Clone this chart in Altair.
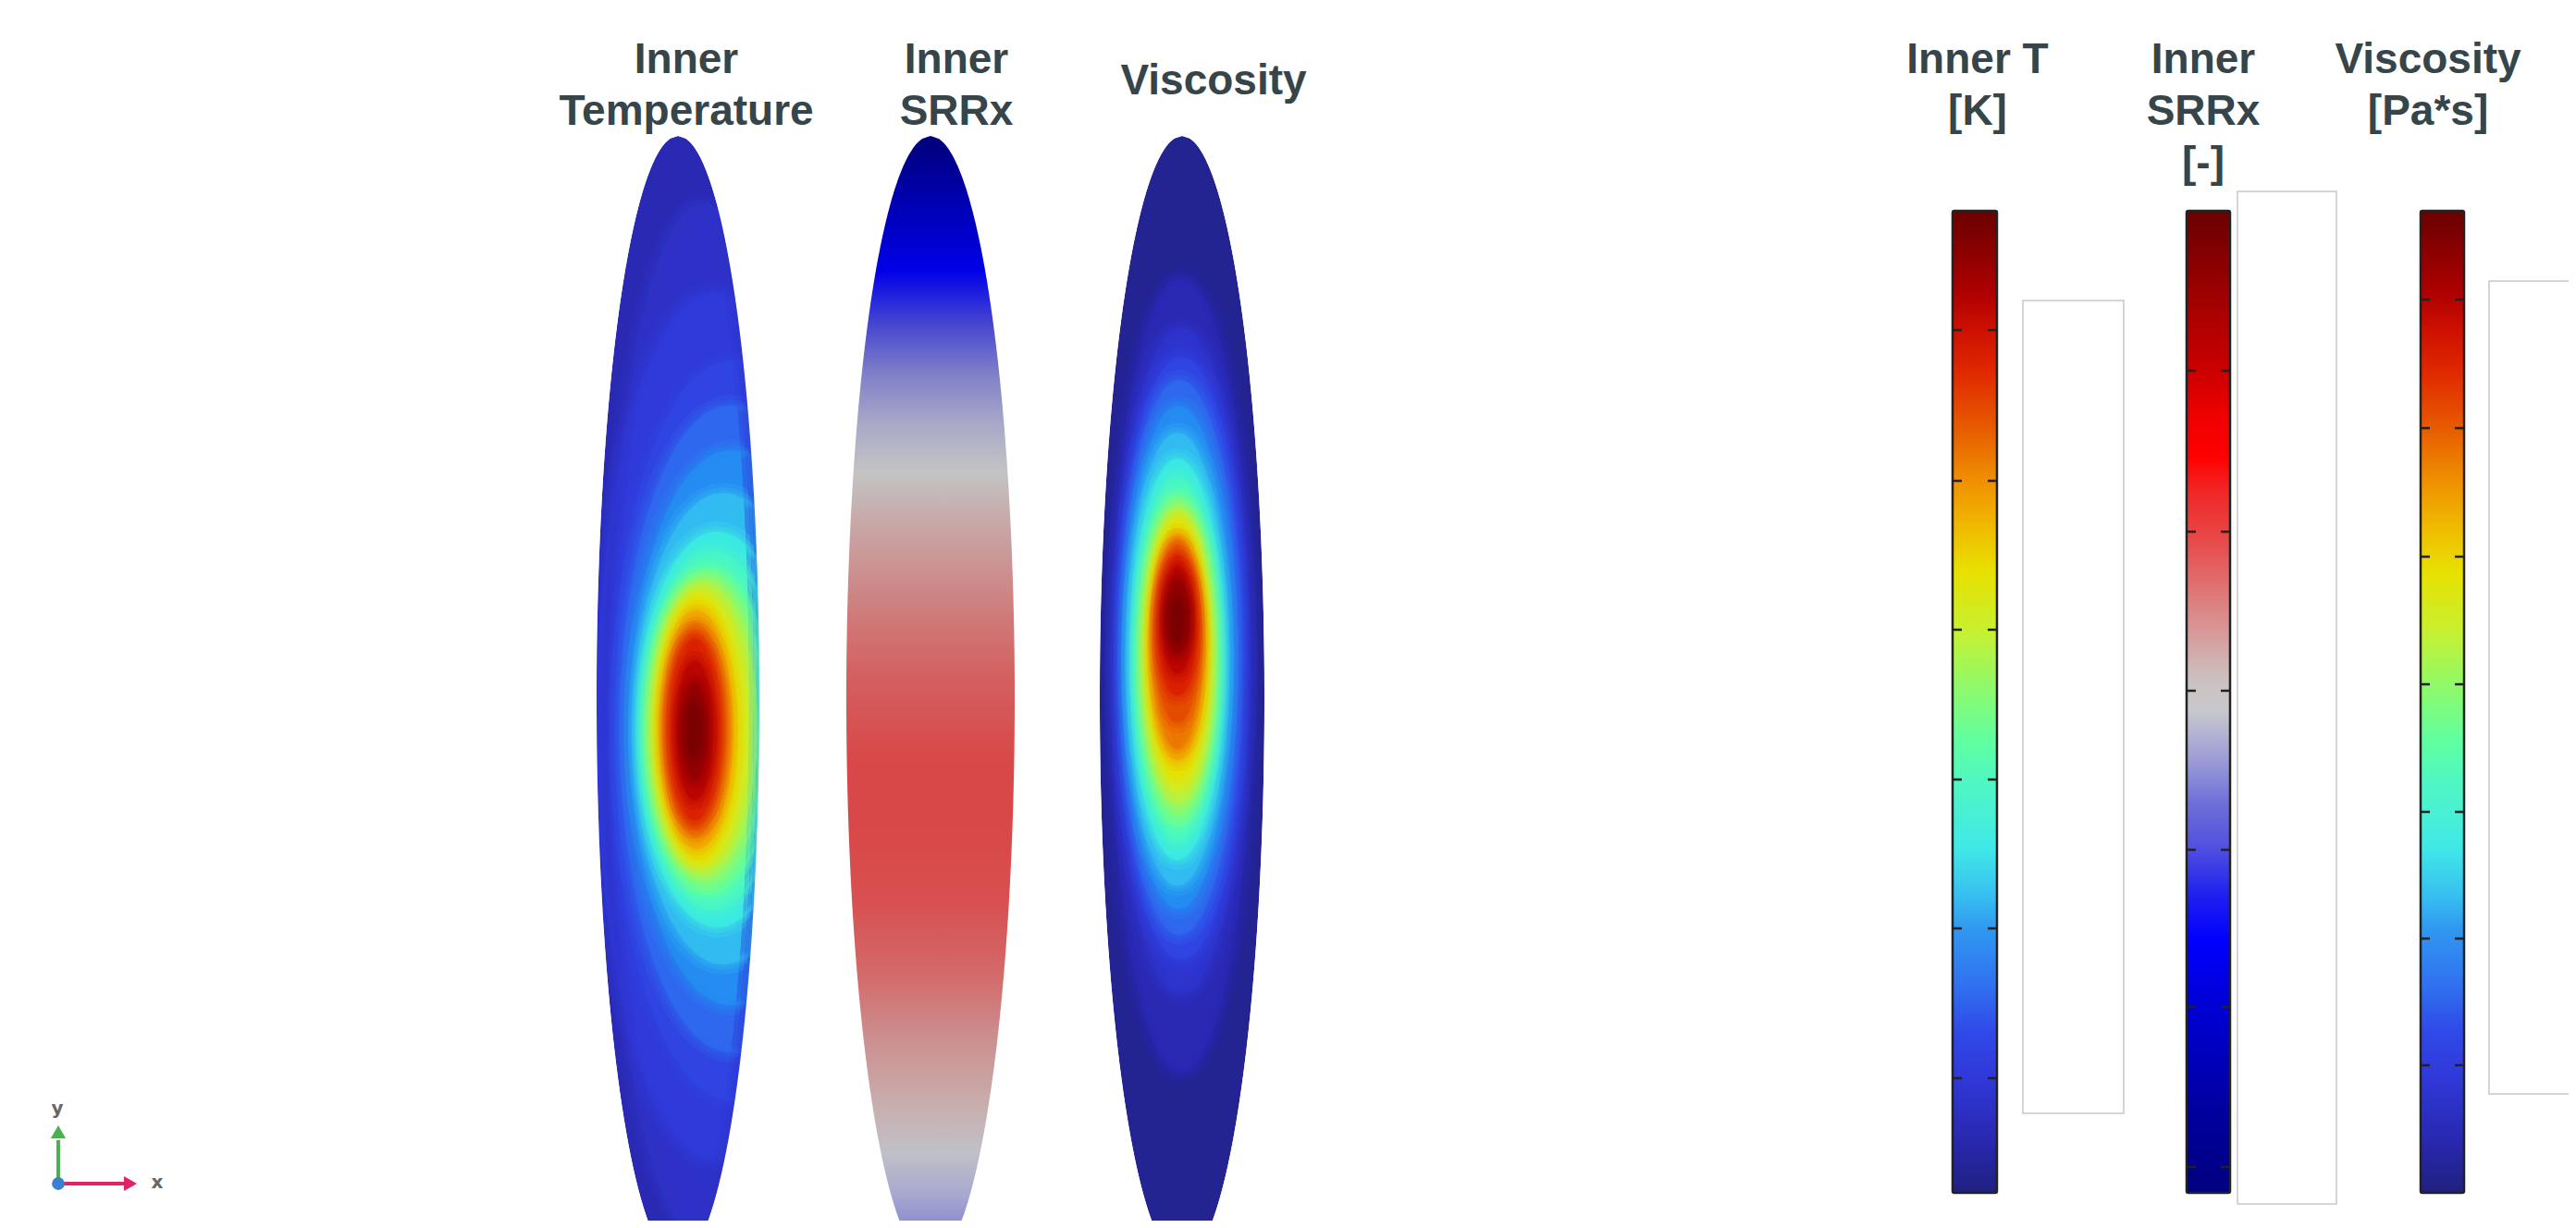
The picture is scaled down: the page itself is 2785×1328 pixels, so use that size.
import altair as alt
import numpy as np
import pandas as pd

# ---------------- values ----------------
panel_titles = ["Inner\nTemperature", "Inner\nSRRx", "Viscosity"]
bar_titles = ["Inner T\n[K]", "Inner\nSRRx\n[-]", "Viscosity\n[Pa*s]"]

# rainbow colour map of the T / viscosity colour bars (value 0 = bottom, 1 = top)
rainbow_pos = [0.0, 0.054, 0.117, 0.163, 0.210, 0.269, 0.304, 0.351, 0.421, 0.461,
               0.525, 0.573, 0.633, 0.680, 0.725, 0.774, 0.836, 0.88, 0.915, 1.0]
rainbow_col = ["#202080", "#2828b0", "#3038d8", "#3048e8", "#3070f0", "#3098f0", "#38c0f0",
               "#40e8e8", "#50f8c0", "#60ffa0", "#98f860", "#c8f030", "#e8e000", "#f0b800",
               "#f09000", "#e86000", "#e02800", "#cc1000", "#b00000", "#6a0000"]

# blue-white-red colour map of the SRRx colour bar
wave_pos = [0.0, 0.085, 0.148, 0.21, 0.257, 0.304, 0.351, 0.398, 0.445, 0.492,
            0.524, 0.572, 0.619, 0.666, 0.713, 0.75, 0.791, 0.835, 0.913, 1.0]
wave_col = ["#000080", "#0000a0", "#0000c0", "#0000e0", "#0000ff", "#2020f0", "#5050e0",
            "#7070d8", "#a0a0d8", "#c8c8cc", "#ccc0c0", "#d89898", "#e07070", "#e84848",
            "#f02828", "#ff0000", "#f00000", "#cc0000", "#a00000", "#6a0000"]

# SRRx field: colour along the height of the ellipse
srrx_y = [147, 216, 292, 352, 405, 458, 511, 564, 618, 671, 731, 822, 898, 974,
          1050, 1125, 1201, 1247, 1292, 1328]
srrx_c = ["#00007a", "#0000b0", "#0000e8", "#4848d0", "#8080c8", "#a8a8c8", "#c4c4c4",
          "#c8a8a8", "#cc9090", "#d07878", "#d46060", "#d84848", "#d84848", "#d85050",
          "#d46868", "#cc9090", "#c8b0b0", "#c0c0c8", "#a8a8d0", "#9090d0"]

# Inner temperature field: iso-level ellipses (level, centre x, centre y, half width, half height)
T_level = [0.06, 0.09, 0.12, 0.15, 0.20, 0.25, 0.30, 0.36, 0.41, 0.46, 0.50, 0.55, 0.59,
           0.63, 0.69, 0.75, 0.80, 0.85, 0.90, 0.95, 0.98]
T_cx = [733, 760, 770, 790, 790, 790, 782, 775, 770, 766, 763, 760, 757,
        755, 753, 752, 751, 751, 751, 751, 750]
T_cy = [755, 780, 785, 790, 788, 787, 788, 789, 790, 791, 789, 787, 788,
        789, 789, 789, 789, 789, 790, 791, 790]
T_a = [88, 105, 125, 130, 120, 110, 97, 85, 77, 69, 63, 57, 51,
       45, 40, 34.5, 31, 28.5, 21, 14, 7]
T_b = [608, 560, 470, 400, 350, 300, 255, 214, 195, 177, 168, 158, 150,
       143, 130, 116, 107, 98, 75, 52, 28]

# Viscosity field
V_level = [0.02, 0.06, 0.10, 0.15, 0.20, 0.25, 0.30, 0.36, 0.41, 0.46, 0.50, 0.55, 0.59,
           0.63, 0.69, 0.75, 0.80, 0.85, 0.90, 0.95, 0.98]
V_cx = [1278, 1277, 1277, 1277, 1275, 1274, 1273, 1273, 1273, 1273, 1274, 1274, 1274,
        1273, 1273, 1273, 1273, 1273, 1273, 1273, 1273]
V_cy = [755, 730, 715, 712, 711, 711, 713, 713, 714, 714, 712, 710, 706,
        703, 700, 696, 686, 676, 670, 667, 670]
V_a = [89, 77, 72, 70, 65, 59, 55, 50, 46, 43.5, 41, 39, 36,
       33.5, 30, 27, 25, 23.5, 18, 13.5, 7]
V_b = [608, 430, 360, 326, 300, 272, 245, 217, 199, 181, 171, 159, 150,
       139, 123, 114, 96, 76, 58, 40, 22]

# colour-bar tick positions
T_ticks = [357, 520, 681, 843, 1004, 1166]
S_ticks = [401, 575, 747, 919, 1089, 1262]
V_ticks = [324, 463, 602, 740, 878, 1015, 1152]

# ---------------- layout ----------------
W, H = 2769, 1312
YMAX = 8 + H
xs = alt.Scale(domain=[8, 8 + W], nice=False, zero=False)
ys = alt.Scale(domain=[8, YMAX], nice=False, zero=False, reverse=True)

ell_cx = [733, 1006, 1278]
ell_a = [88, 91, 89]
ell_cy, ell_b = 755, 608

title_x = [742, 1034, 1312]
title_y = [79, 79, 102]
bar_title_x = [2138, 2382, 2625]
bar_left = [2111, 2364, 2617]
bar_right = [2159, 2411, 2664]
bar_top, bar_bot = 228, 1290
box_l = [2187, 2419, 2691]
box_r = [2296, 2526, 2830]
box_t = [325, 207, 304]
box_b = [1204, 1302, 1183]
TEXT = "#36454a"
FONT = "Liberation Sans"


def X(f, **kw):
    return alt.X(f, type="quantitative", scale=xs, axis=None, **kw)


def Y(f, **kw):
    return alt.Y(f, type="quantitative", scale=ys, axis=None, **kw)


def contour_rows(levels, cxs, cys, aas, bbs, dom):
    dcx, dcy, da, db = dom
    out = []
    for lv, cx, cy, a, b in zip(levels, cxs, cys, aas, bbs):
        y0 = max(cy - b, dcy - db)
        y1 = min(cy + b, dcy + db, YMAX)
        yy = np.linspace(y0, y1, 400)
        hw = a * np.sqrt(np.clip(1 - ((yy - cy) / b) ** 2, 0, None))
        dhw = da * np.sqrt(np.clip(1 - ((yy - dcy) / db) ** 2, 0, None))
        xl = np.maximum(cx - hw, dcx - dhw)
        xr = np.minimum(cx + hw, dcx + dhw)
        m = xr >= xl
        out.append(pd.DataFrame({"level": lv, "y": yy[m], "xl": xl[m], "xr": xr[m]}))
    return pd.concat(out, ignore_index=True)


def mask_rows(cx, a, width=26):
    yy = np.linspace(ell_cy - ell_b, YMAX, 500)
    hw = a * np.sqrt(np.clip(1 - ((yy - ell_cy) / ell_b) ** 2, 0, None))
    left = pd.DataFrame({"side": "l", "y": yy, "xl": cx - hw - width, "xr": cx - hw})
    right = pd.DataFrame({"side": "r", "y": yy, "xl": cx + hw, "xr": cx + hw + width})
    return pd.concat([left, right], ignore_index=True)


rainbow = alt.Scale(domain=rainbow_pos, range=rainbow_col, type="linear")

T_df = contour_rows(T_level, T_cx, T_cy, T_a, T_b, (ell_cx[0], ell_cy, ell_a[0], ell_b))
V_df = contour_rows(V_level, V_cx, V_cy, V_a, V_b, (ell_cx[2], ell_cy, ell_a[2], ell_b))


def field_layers(df, base):
    fill = alt.Chart(df).mark_area(orient="horizontal", clip=True).encode(
        y=Y("y"), x=X("xl", stack=None), x2="xr",
        color=alt.Color("level:Q", scale=rainbow, legend=None),
        detail="level:N",
    )
    inner = df[df["level"] > base]
    blends = []
    for w, op in [(22, 0.22), (12, 0.28), (5, 0.3)]:
        blends.append(
            alt.Chart(inner).mark_area(orient="horizontal", clip=True, fillOpacity=0,
                                       strokeWidth=w, strokeOpacity=op, strokeJoin="round").encode(
                y=Y("y"), x=X("xl", stack=None), x2="xr",
                stroke=alt.Stroke("level:Q", scale=rainbow, legend=None),
                detail="level:N",
            )
        )
    return [fill] + blends


def mask_layer(df):
    return alt.Chart(df).mark_area(orient="horizontal", clip=True, color="white").encode(
        y=Y("y"), x=X("xl", stack=None), x2="xr", detail="side:N")


# SRRx ellipse with vertical gradient
S_df = contour_rows([0.5], [ell_cx[1]], [ell_cy], [ell_a[1]], [ell_b], (ell_cx[1], ell_cy, ell_a[1], ell_b))
s_top, s_bot = S_df["y"].min(), S_df["y"].max()
s_grad = alt.LinearGradient(
    gradient="linear", x1=0, x2=0, y1=0, y2=1,
    stops=[alt.GradientStop(offset=float(min(1.0, max(0.0, (yv - s_top) / (s_bot - s_top)))), color=c)
           for yv, c in zip(srrx_y, srrx_c)],
)
srrx_layer = alt.Chart(S_df).mark_area(orient="horizontal", clip=True, color=s_grad).encode(
    y=Y("y"), x=X("xl", stack=None), x2="xr"
)


def cbar_grad(pos, cols):
    return alt.LinearGradient(gradient="linear", x1=0, x2=0, y1=1, y2=0,
                              stops=[alt.GradientStop(offset=p, color=c) for p, c in zip(pos, cols)])


cmaps = [(rainbow_pos, rainbow_col), (wave_pos, wave_col), (rainbow_pos, rainbow_col)]
bar_layers = []
for i, (p, c) in enumerate(cmaps):
    d = pd.DataFrame({"x": [bar_left[i]], "x2": [bar_right[i]], "y": [bar_top], "y2": [bar_bot]})
    bar_layers.append(
        alt.Chart(d).mark_rect(fill=cbar_grad(p, c), stroke="#222222", strokeWidth=2.5, cornerRadius=2)
        .encode(x=X("x"), x2="x2", y=Y("y"), y2="y2")
    )

tick_rows = []
for i, tl in enumerate([T_ticks, S_ticks, V_ticks]):
    for t in tl:
        tick_rows.append({"x": bar_left[i], "x2": bar_left[i] + 10, "y": t})
        tick_rows.append({"x": bar_right[i] - 10, "x2": bar_right[i], "y": t})
ticks = alt.Chart(pd.DataFrame(tick_rows)).mark_rule(color="#222222", strokeWidth=2.5).encode(
    x=X("x"), x2="x2", y=Y("y"))

boxes = alt.Chart(pd.DataFrame({"x": box_l, "x2": box_r, "y": box_t, "y2": box_b})).mark_rect(
    fill="white", stroke="#c8c8c8", strokeWidth=1.5, clip=True).encode(x=X("x"), x2="x2", y=Y("y"), y2="y2")

titles_df = pd.DataFrame({
    "t": panel_titles + bar_titles,
    "x": title_x + bar_title_x,
    "y": title_y + [79, 79, 79],
})
titles = alt.Chart(titles_df).mark_text(
    font=FONT, fontWeight="bold", fontSize=46, color=TEXT, lineBreak="\n", lineHeight=56,
    align="center", baseline="alphabetic").encode(x=X("x"), y=Y("y"), text="t:N")

# axis triad
ox, oy = 63, 1280
shaft = alt.Chart(pd.DataFrame({"x": [ox, ox], "x2": [ox, 134], "y": [oy, oy], "y2": [1233, oy],
                                "c": ["#4caf50", "#e0246a"]})).mark_rule(strokeWidth=4).encode(
    x=X("x"), x2="x2", y=Y("y"), y2="y2", color=alt.Color("c:N", scale=None))
heads = alt.Chart(pd.DataFrame({"x": [ox, 141], "y": [1224, oy], "s": ["triangle-up", "triangle-right"],
                                "c": ["#4caf50", "#e0246a"]})).mark_point(filled=True, opacity=1, size=260).encode(
    x=X("x"), y=Y("y"), shape=alt.Shape("s:N", scale=None), color=alt.Color("c:N", scale=None))
dot = alt.Chart(pd.DataFrame({"x": [ox], "y": [oy]})).mark_circle(size=190, color="#3a7fd0", opacity=1).encode(
    x=X("x"), y=Y("y"))
tri_lab = alt.Chart(pd.DataFrame({"t": ["y", "x"], "x": [62, 170], "y": [1199, 1279]})).mark_text(
    font="DejaVu Sans", fontWeight="bold", fontSize=20, color="#666666", baseline="middle").encode(
    x=X("x"), y=Y("y"), text="t:N")

chart = alt.layer(
    *field_layers(T_df, T_level[0]), *field_layers(V_df, V_level[0]),
    mask_layer(mask_rows(ell_cx[0], ell_a[0])), mask_layer(mask_rows(ell_cx[2], ell_a[2])),
    srrx_layer,
    boxes, *bar_layers, ticks, titles, shaft, heads, dot, tri_lab,
).properties(
    width=W, height=H, padding=0, autosize=alt.AutoSizeParams(type="none"),
    background="white",
).configure_view(strokeWidth=0)

chart.save("out.html", embed_options={"renderer": "svg", "actions": False})
